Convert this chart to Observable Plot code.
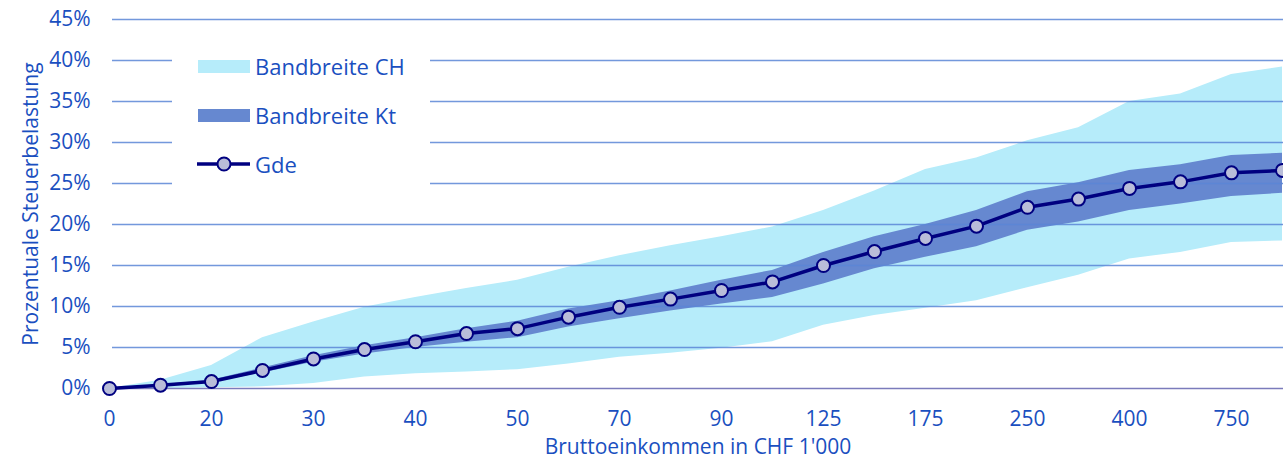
<!DOCTYPE html>
<html>
<head>
<meta charset="utf-8">
<script src="https://cdn.jsdelivr.net/npm/d3@7"></script>
<script src="https://cdn.jsdelivr.net/npm/@observablehq/plot@0.6"></script>
<style>
  html, body { margin: 0; padding: 0; background: #fff; }
  #wrap { position: relative; width: 1283px; height: 462px; font-family: "Open Sans", sans-serif; }
  #legend { position: absolute; left: 172px; top: 44px; width: 258px; height: 158px; background: #fff; color: #1a4fc0; font-size: 22px; }
  .item { position: absolute; left: 0; display: flex; align-items: center; }
  .sw { display: inline-block; width: 52px; height: 13px; margin-left: 26px; margin-right: 5px; }
</style>
</head>
<body>
<div id="wrap"></div>
<script>
// Categories (gross income in CHF 1'000)
const incomes = ["0","10","20","25","30","35","40","45","50","60","70","80","90","100","125","150","175","200","250","300","400","500","750","1000"];
// Tick labels shown on the x axis
const xTickLabels = ["0","20","30","40","50","70","90","125","175","250","400","750"];
// Gemeinde (percent)
const gde   = [0, 0.4, 0.85, 2.2, 3.6, 4.75, 5.7, 6.7, 7.3, 8.7, 9.9, 10.9, 11.95, 13.0, 15.0, 16.7, 18.3, 19.8, 22.1, 23.1, 24.4, 25.2, 26.3, 26.6];
// Bandbreite Kanton (percent)
const ktLo  = [0, 0.3, 0.7, 1.9, 3.2, 4.2, 5.0, 5.65, 6.2, 7.5, 8.5, 9.45, 10.3, 11.1, 12.75, 14.6, 16.0, 17.3, 19.3, 20.3, 21.7, 22.5, 23.4, 23.8];
const ktHi  = [0, 0.45, 1.0, 2.5, 4.0, 5.2, 6.2, 7.3, 8.2, 9.7, 10.7, 11.9, 13.2, 14.4, 16.6, 18.5, 20.0, 21.7, 24.0, 25.1, 26.6, 27.3, 28.4, 28.7];
// Bandbreite Schweiz (percent)
const chLo  = [0, 0, 0.1, 0.2, 0.6, 1.4, 1.8, 2.0, 2.3, 3.0, 3.8, 4.3, 4.9, 5.7, 7.7, 8.9, 9.8, 10.7, 12.3, 13.8, 15.8, 16.6, 17.8, 18.0];
const chHi  = [0, 1.0, 2.8, 6.2, 8.1, 9.9, 11.1, 12.2, 13.2, 14.8, 16.2, 17.4, 18.5, 19.7, 21.7, 24.1, 26.7, 28.1, 30.2, 31.8, 35.0, 35.9, 38.3, 39.2];
const yTicks = [0, 5, 10, 15, 20, 25, 30, 35, 40, 45];

const data = incomes.map((inc, i) => ({inc, gde: gde[i], ktLo: ktLo[i], ktHi: ktHi[i], chLo: chLo[i], chHi: chHi[i]}));
const textColor = "#1a4fc0";

const chart = Plot.plot({
  width: 1283,
  height: 462,
  marginLeft: 112,
  marginRight: 0,
  marginTop: 19,
  marginBottom: 74,
  style: {fontFamily: "Open Sans, sans-serif", fontSize: "20px", color: textColor, background: "#fff"},
  x: {type: "point", domain: incomes, padding: 0, range: [106, 1284]},
  y: {domain: [0, 45]},
  marks: [
    Plot.areaY(data, {x: "inc", y1: "chLo", y2: "chHi", fill: "#b6ecfa"}),
    Plot.areaY(data, {x: "inc", y1: "ktLo", y2: "ktHi", fill: "#6688d0"}),
    Plot.ruleY(yTicks.filter(d => d > 0), {stroke: "#5a86d6", strokeWidth: 1.4, strokeOpacity: 0.85}),
    Plot.ruleY([0], {stroke: "#7b7bbb", strokeWidth: 1.6}),
    Plot.axisY({ticks: yTicks, tickSize: 0, tickPadding: 22, tickFormat: d => d + "%", fontSize: 21,
      label: "Prozentuale Steuerbelastung", labelAnchor: "center", labelArrow: "none", labelOffset: 89}),
    Plot.axisX({ticks: xTickLabels, tickSize: 0, tickPadding: 23, fontSize: 21,
      label: "Bruttoeinkommen in CHF 1'000", labelAnchor: "center", labelArrow: "none", labelOffset: 65}),
    Plot.line(data, {x: "inc", y: "gde", stroke: "#000080", strokeWidth: 3.5}),
    Plot.dot(data, {x: "inc", y: "gde", r: 6.5, fill: "#b9bdd9", stroke: "#000080", strokeWidth: 2})
  ]
});

const wrap = document.getElementById("wrap");
wrap.appendChild(chart);

const legend = document.createElement("div");
legend.id = "legend";
legend.innerHTML = `
  <div class="item" style="top:7px"><span class="sw" style="background:#b6ecfa"></span><span>Bandbreite CH</span></div>
  <div class="item" style="top:56px"><span class="sw" style="background:#6688d0"></span><span>Bandbreite Kt</span></div>
  <div class="item" style="top:105px"><svg width="83" height="20" style="margin-right:0"><line x1="25" x2="78" y1="10" y2="10" stroke="#000080" stroke-width="3.5"/><circle cx="52" cy="10" r="6.5" fill="#b9bdd9" stroke="#000080" stroke-width="2"/></svg><span>Gde</span></div>`;
wrap.appendChild(legend);
</script>
</body>
</html>
